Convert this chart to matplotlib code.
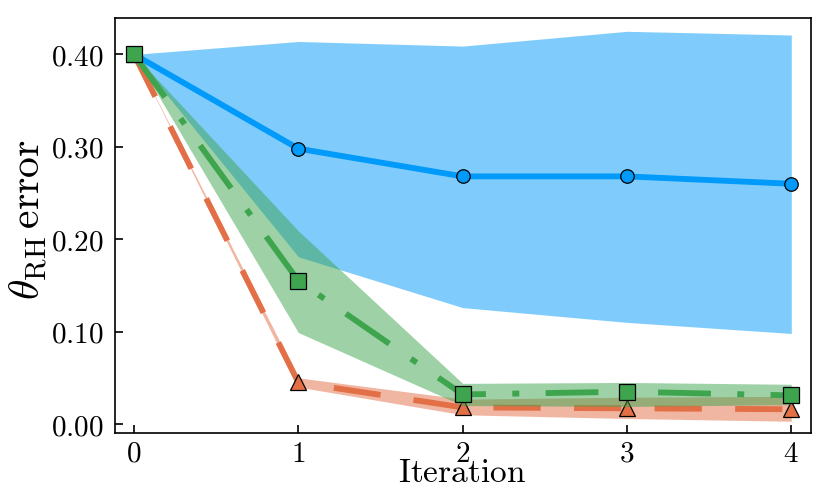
import numpy as np
import matplotlib
matplotlib.use("Agg")
import matplotlib.pyplot as plt

plt.rcParams['mathtext.fontset'] = 'cm'
plt.rcParams['lines.scale_dashes'] = False

# data
iterations = [0, 1, 2, 3, 4]

blue_mean = [0.400, 0.298, 0.268, 0.268, 0.260]
blue_lo = [0.400, 0.181, 0.126, 0.110, 0.098]
blue_hi = [0.400, 0.414, 0.409, 0.425, 0.421]

red_mean = [0.400, 0.045, 0.018, 0.017, 0.016]
red_lo = [0.400, 0.040, 0.010, 0.006, 0.003]
red_hi = [0.400, 0.050, 0.027, 0.029, 0.030]

green_mean = [0.400, 0.155, 0.032, 0.035, 0.031]
green_lo = [0.400, 0.099, 0.020, 0.019, 0.021]
green_hi = [0.400, 0.209, 0.044, 0.045, 0.043]

yticks = [0.0, 0.1, 0.2, 0.3, 0.4]
ytick_labels = ["$0.00$", "$0.10$", "$0.20$", "$0.30$", "$0.40$"]
xtick_labels = ["$0$", "$1$", "$2$", "$3$", "$4$"]

BLUE = "#009AFA"
RED = "#E36F47"
GREEN = "#3EA44E"

fig = plt.figure(figsize=(8.3, 4.98), dpi=100)
ax = fig.add_axes([115 / 830, 1 - 433 / 498, 696 / 830, 415 / 498])

series = [
    (blue_mean, blue_lo, blue_hi, BLUE, "-", "o", 9.7),
    (red_mean, red_lo, red_hi, RED, (0, (34, 24)), "^", 12),
    (green_mean, green_lo, green_hi, GREEN, (0, (38, 19, 5, 19)), "s", 12),
]
for i, (mean, lo, hi, col, ls, mk, ms) in enumerate(series):
    z = 2 + 3 * i
    ax.fill_between(iterations, lo, hi, color=col, alpha=0.5, lw=0, zorder=z)
    ax.plot(iterations, mean, color=col, lw=4.2, ls=ls, zorder=z + 1)
    ax.plot(iterations, mean, ls="none", marker=mk, ms=ms, mfc=col,
            mec="black", mew=0.9, zorder=z + 2)

ax.set_xlim(-0.116, 4.12)
ax.set_ylim(-0.0097, 0.4394)
ax.set_xticks(iterations)
ax.set_xticklabels(xtick_labels)
ax.set_yticks(yticks)
ax.set_yticklabels(ytick_labels)
ax.tick_params(direction="in", length=5.5, width=1.2, labelsize=21)
ax.tick_params(axis="x", pad=5)
ax.tick_params(axis="y", pad=8)
for sp in ax.spines.values():
    sp.set_linewidth(1.2)

fig.text(462 / 830, 1 - 472 / 498, r"$\mathrm{Iteration}$", fontsize=24,
         ha="center", va="center")
fig.text(29 / 830, 1 - 220 / 498, r"$\theta_{\mathrm{RH}}\,\mathrm{error}$",
         fontsize=30, rotation=90, ha="center", va="center")

fig.savefig("out.png", dpi=100)
